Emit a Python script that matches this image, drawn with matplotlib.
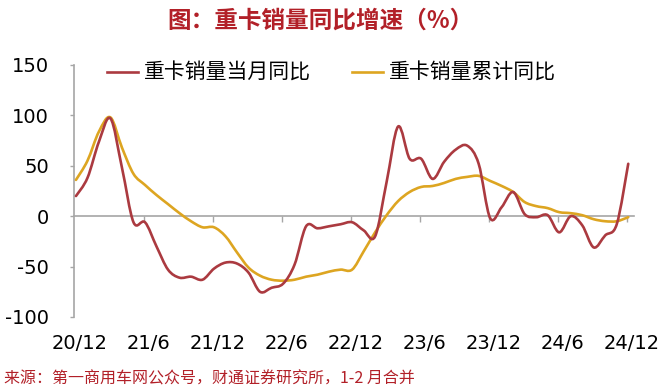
import numpy as np
import matplotlib
matplotlib.use("Agg")
import matplotlib.pyplot as plt
from matplotlib.path import Path
from matplotlib.patches import PathPatch
from matplotlib.lines import Line2D

plt.rcParams['font.family'] = ['Noto Sans CJK SC', 'DejaVu Sans']

# ---- data (monthly, 2020/12 .. 2024/12) ----
months = np.arange(49)
tick_labels = ["20/12", "21/6", "21/12", "22/6", "22/12", "23/6", "23/12", "24/6", "24/12"]
monthly_yoy = [20, 38, 74, 97, 48, -6, -6, -30, -53, -61, -60, -63,
               -52, -46, -47, -56, -75, -71, -67, -48, -10, -12, -10, -8,
               -6, -14, -20, 34, 89, 57, 57, 37, 54, 66, 70, 52,
               -2, 9, 24, 2, -1, 1, -16, 0, -9, -31, -19, -8, 52]
cumulative_yoy = [36, 55, 84, 98, 68, 42, 31, 21, 12, 3, -5, -11,
                  -11, -20, -36, -51, -59, -63, -64, -63, -60, -58, -55, -53,
                  -53, -35, -16, 1, 15, 24, 29, 30, 33, 37, 39, 40,
                  35, 30, 24, 14, 10, 8, 4, 3, 1, -3, -5, -5, -1]
series_names = ["重卡销量当月同比", "重卡销量累计同比"]
title = "图：重卡销量同比增速（%）"
source = "来源：第一商用车网公众号，财通证券研究所，1-2 月合并"

RED = "#AB3A40"
YEL = "#DDA521"
GRAY = "#A6A6A6"


def smooth_path(x, y):
    """Excel-like smoothed line: Catmull-Rom converted to cubic Bezier."""
    x = np.asarray(x, float)
    y = np.asarray(y, float)
    pts = np.column_stack([x, y])
    n = len(pts)
    verts = [pts[0]]
    codes = [Path.MOVETO]
    for i in range(n - 1):
        p0 = pts[i - 1] if i > 0 else pts[i]
        p1 = pts[i]
        p2 = pts[i + 1]
        p3 = pts[i + 2] if i + 2 < n else pts[i + 1]
        c1 = p1 + (p2 - p0) / 6.0
        c2 = p2 - (p3 - p1) / 6.0
        verts += [c1, c2, p2]
        codes += [Path.CURVE4] * 3
    return Path(verts, codes)


fig = plt.figure(figsize=(6.6, 3.92), dpi=100)
ax = fig.add_axes([74 / 660, 75 / 392, 560 / 660, 252 / 392])

ax.set_ylim(-100, 150)
ax.set_xlim(-0.17, 48.5)

for vals, col in [(cumulative_yoy, YEL), (monthly_yoy, RED)]:
    patch = PathPatch(smooth_path(months, vals), fill=False, edgecolor=col,
                      lw=1.9, transform=ax.transData, capstyle='round',
                      joinstyle='round', zorder=3)
    ax.add_patch(patch)

# spines
for s in ['top', 'right']:
    ax.spines[s].set_visible(False)
ax.spines['left'].set_color(GRAY)
ax.spines['left'].set_linewidth(1.2)
ax.spines['bottom'].set_position(('data', 0))
ax.spines['bottom'].set_color(GRAY)
ax.spines['bottom'].set_linewidth(1.2)

ax.set_yticks([-100, -50, 0, 50, 100, 150])
ax.set_yticklabels(["-100", "-50", "0", "50", "100", "150"])
ax.tick_params(axis='y', direction='out', length=3, width=1, color=GRAY,
               pad=15, labelsize=14, labelcolor='black')
for lab in ax.get_yticklabels():
    lab.set_fontfamily('DejaVu Sans')

tick_pos = np.arange(0, 49, 6)
ax.set_xticks(tick_pos[1:] - 0.1)
ax.tick_params(axis='x', direction='out', length=4, width=1, color=GRAY,
               labelbottom=False)

sec = ax.secondary_xaxis(0)
sec.set_xticks(tick_pos + 0.3)
sec.set_xticklabels(tick_labels)
sec.tick_params(length=0, pad=12, labelsize=14)
sec.spines['bottom'].set_visible(False)
for lab in sec.get_xticklabels():
    lab.set_fontfamily('DejaVu Sans')

handles = [Line2D([], [], color=RED, lw=1.9), Line2D([], [], color=YEL, lw=1.9)]
fig.legend(handles, series_names, loc='center left',
           bbox_to_anchor=(107 / 660, 1 - 73 / 392), bbox_transform=fig.transFigure,
           ncol=2, frameon=False, fontsize=15, handlelength=1.5,
           handletextpad=0.25, columnspacing=2.0, borderpad=0, borderaxespad=0)

fig.text(320 / 660, 1 - 21 / 392, title, ha='center', va='center',
         fontsize=17, color="#B22028", fontweight='bold')
fig.text(4 / 660, 1 - 379 / 392, source, ha='left', va='center',
         fontsize=11.5, color="#B22028")

fig.savefig("out.png", dpi=100)
